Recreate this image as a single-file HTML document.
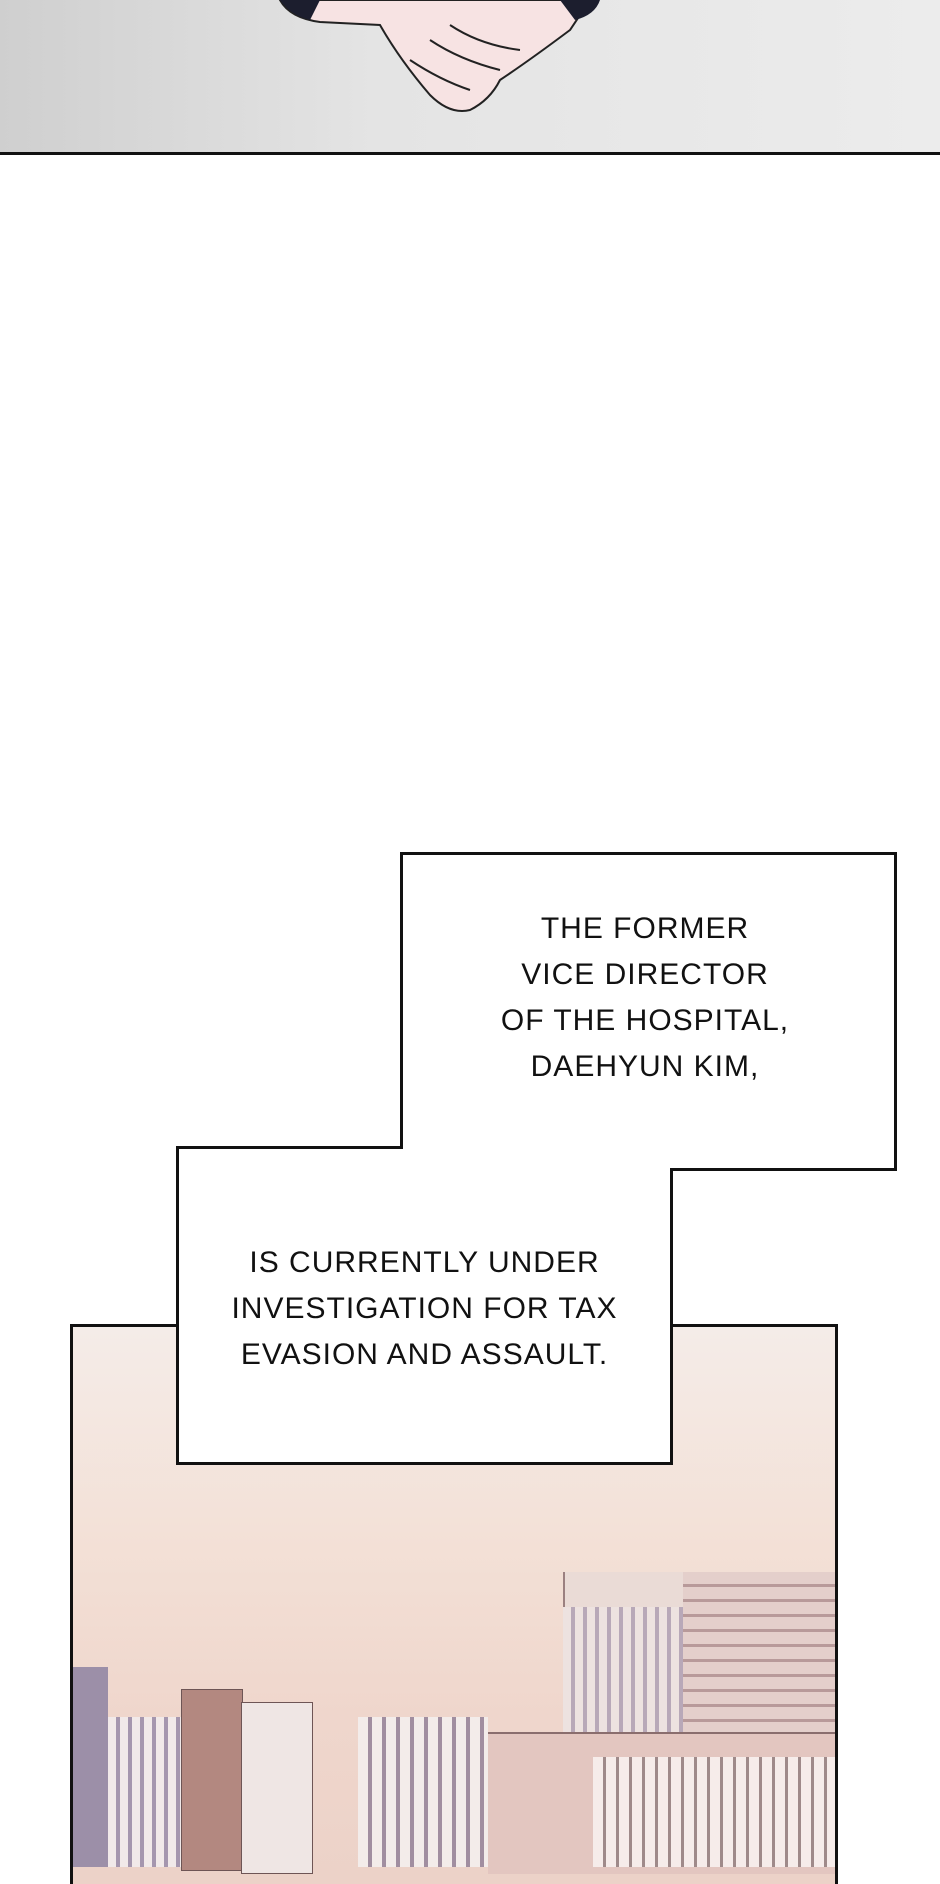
<!DOCTYPE html>
<html><head><style>
html,body{margin:0;padding:0;}
body{width:940px;height:1835px;position:relative;background:#fff;overflow:hidden;font-family:"Liberation Sans",sans-serif;}
.abs{position:absolute;}
.box{position:absolute;background:#fff;border:3px solid #111;box-sizing:border-box;}
.txt{position:absolute;text-align:center;font-size:30px;line-height:46px;letter-spacing:1px;color:#111;font-family:"Liberation Sans",sans-serif;}
</style></head><body>
<div class="abs" style="left:0;top:0;width:940px;height:152px;background:linear-gradient(90deg,#cfcfcf,#e4e4e4 40%,#ececec);border-bottom:3px solid #111;"></div>
<svg class="abs" style="left:0px;top:0px" width="940" height="155" viewBox="0 0 940 155">
<path d="M280 0 Q290 18 320 22 L380 25 Q400 60 430 95 Q450 115 470 110 Q490 100 500 80 Q530 60 570 30 L590 0 Z" fill="#f7e3e3" stroke="#222" stroke-width="2"/>
<path d="M280 0 Q290 15 310 20 L320 0Z" fill="#1c1e2e"/>
<path d="M560 0 L600 0 Q595 15 575 20Z" fill="#1c1e2e"/>
<path d="M410 60 Q440 80 470 90 M430 40 Q460 60 500 70 M450 25 Q480 45 520 50" stroke="#222" stroke-width="2" fill="none"/>
</svg>
<div class="abs" style="left:70px;top:1324px;width:768px;height:560px;border:3px solid #111;border-bottom:none;box-sizing:border-box;background:linear-gradient(180deg,#f4ece8 0%,#f3e0d6 40%,#efd6cc 70%,#ecd2c8 100%);overflow:hidden;">
 <div class="abs" style="left:490px;top:245px;width:275px;height:300px;background:#eadbd6;border-left:2px solid #9b8080;"></div>
 <div class="abs" style="left:610px;top:245px;width:160px;height:300px;background:repeating-linear-gradient(180deg,#e4cfcb 0 12px,#b89a9a 12px 15px);"></div>
 <div class="abs" style="left:490px;top:280px;width:120px;height:260px;background:repeating-linear-gradient(90deg,#ede2e0 0 8px,#b8a8b8 8px 12px);"></div>
 <div class="abs" style="left:0;top:340px;width:35px;height:200px;background:#9c8fa8;"></div>
 <div class="abs" style="left:35px;top:390px;width:75px;height:150px;background:repeating-linear-gradient(90deg,#f1e9e9 0 8px,#a596ae 8px 12px);"></div>
 <div class="abs" style="left:108px;top:362px;width:60px;height:180px;background:#b38880;border:1px solid #6e5555;"></div>
 <div class="abs" style="left:168px;top:375px;width:70px;height:170px;background:#efe6e4;border:1px solid #6e5555;"></div>
 <div class="abs" style="left:285px;top:390px;width:130px;height:150px;background:repeating-linear-gradient(90deg,#f3ecea 0 10px,#a18ea0 10px 14px);"></div>
 <div class="abs" style="left:415px;top:405px;width:350px;height:140px;background:#e3c6c0;border-top:2px solid #8a6e6e;"></div>
 <div class="abs" style="left:520px;top:430px;width:245px;height:110px;background:repeating-linear-gradient(90deg,#f6ecea 0 10px,#9f8a8a 10px 13px);"></div>
</div>
<div class="box" style="left:400px;top:852px;width:497px;height:319px;"></div>
<div class="txt" style="left:400px;top:906px;width:490px;">THE FORMER<br>VICE DIRECTOR<br>OF THE HOSPITAL,<br>DAEHYUN KIM,</div>
<div class="box" style="left:176px;top:1146px;width:497px;height:319px;"></div>
<div class="abs" style="left:403px;top:1146px;width:270px;height:22px;background:#fff;"></div>
<div class="abs" style="left:403px;top:1168px;width:267px;height:3px;background:#fff;"></div>
<div class="txt" style="left:176px;top:1240px;width:497px;">IS CURRENTLY UNDER<br>INVESTIGATION FOR TAX<br>EVASION AND ASSAULT.</div>
</body></html>
